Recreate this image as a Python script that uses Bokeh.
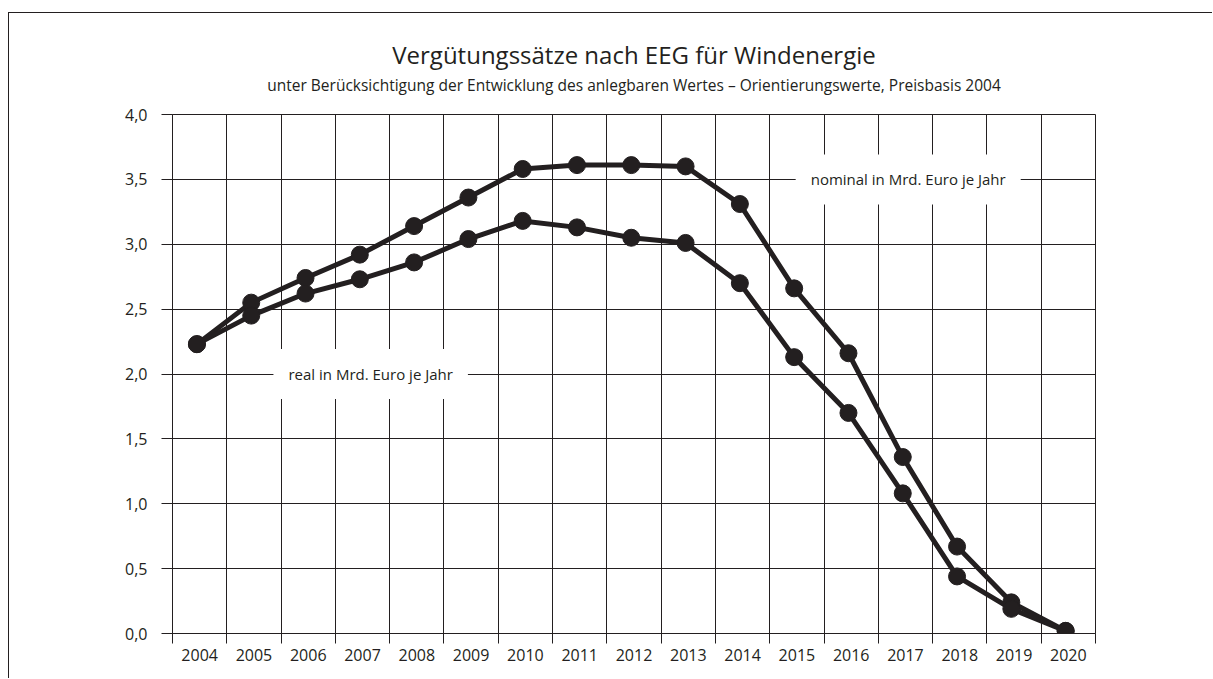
from bokeh.plotting import figure
from bokeh.layouts import column
from bokeh.models import Range1d, FixedTicker, CustomJSTickFormatter, Label, Title
from bokeh.embed import file_html
from bokeh.resources import INLINE

# ---- data ----
years = list(range(2004, 2021))
nominal = [2.23, 2.55, 2.74, 2.92, 3.14, 3.36, 3.58, 3.61, 3.61, 3.60,
           3.31, 2.66, 2.16, 1.36, 0.67, 0.24, 0.02]
real = [2.23, 2.45, 2.62, 2.73, 2.86, 3.04, 3.18, 3.13, 3.05, 3.01,
        2.70, 2.13, 1.70, 1.08, 0.44, 0.19, 0.02]
y_ticks = [0.0, 0.5, 1.0, 1.5, 2.0, 2.5, 3.0, 3.5, 4.0]
label_real = "real in Mrd. Euro je Jahr"
label_nominal = "nominal in Mrd. Euro je Jahr"
title_text = "Vergütungssätze nach EEG für Windenergie"
subtitle_text = ("unter Berücksichtigung der Entwicklung des anlegbaren Wertes "
                 "– Orientierungswerte, Preisbasis 2004")

INK = "#231f20"
FONT = "Open Sans"

x0 = years[0] - 0.45
bounds = [x0 + k for k in range(len(years) + 1)]
label_ticks = [y + 0.05 for y in years]

p = figure(width=1204, height=666,
           x_range=Range1d(x0, bounds[-1]), y_range=Range1d(0, 4),
           output_backend="svg", toolbar_location=None,
           min_border_left=163, min_border_right=118,
           min_border_top=101, min_border_bottom=46)

p.add_layout(Title(text=subtitle_text, align="center", text_font=FONT,
                   text_font_size="15.5px", text_font_style="normal",
                   text_color=INK, standoff=37), "above")
p.add_layout(Title(text=title_text, align="center", text_font=FONT,
                   text_font_size="24px", text_font_style="normal",
                   text_color=INK, standoff=-34), "above")

xt = FixedTicker(ticks=label_ticks, minor_ticks=bounds)
p.xaxis.ticker = xt
p.xgrid.ticker = xt
p.xaxis.formatter = CustomJSTickFormatter(code="return Math.round(tick).toString()")
p.xaxis.major_tick_line_color = None
p.xaxis.minor_tick_line_color = INK
p.xaxis.minor_tick_out = 10
p.xaxis.minor_tick_in = 0
p.xaxis.axis_line_color = INK
p.xaxis.major_label_standoff = 5
p.xgrid.grid_line_color = None
p.xgrid.minor_grid_line_color = INK

yt = FixedTicker(ticks=y_ticks)
p.yaxis.ticker = yt
p.ygrid.ticker = yt
p.yaxis.formatter = CustomJSTickFormatter(code="return tick.toFixed(1).replace('.', ',')")
p.yaxis.minor_tick_line_color = None
p.yaxis.major_tick_line_color = INK
p.yaxis.major_tick_out = 11
p.yaxis.major_tick_in = 0
p.yaxis.major_label_standoff = 14
p.yaxis.axis_line_color = INK
p.ygrid.grid_line_color = INK

for ax in (p.xaxis, p.yaxis):
    ax.major_label_text_font = FONT
    ax.major_label_text_font_size = "16px"
    ax.major_label_text_color = INK

p.outline_line_color = INK
p.outline_line_width = 1

for series in (nominal, real):
    p.line(years, series, line_width=5, color=INK)
    p.scatter(years, series, size=17, color=INK)

for tx, lx, ly in ((label_real, 2007.2, 2.0), (label_nominal, 2017.1, 3.5)):
    p.add_layout(Label(x=lx, y=ly, text=tx, text_align="center",
                       text_baseline="middle", background_fill_color="white",
                       padding=15, text_font=FONT, text_font_size="15px",
                       text_color=INK))

# page border on top and left only (the original is cropped right and below)
page = column(p, styles={"box-shadow": f"-1px -1px 0 0 {INK}",
                         "margin-top": "13px", "margin-left": "9px"})

open("out.html", "w").write(file_html(page, INLINE))
